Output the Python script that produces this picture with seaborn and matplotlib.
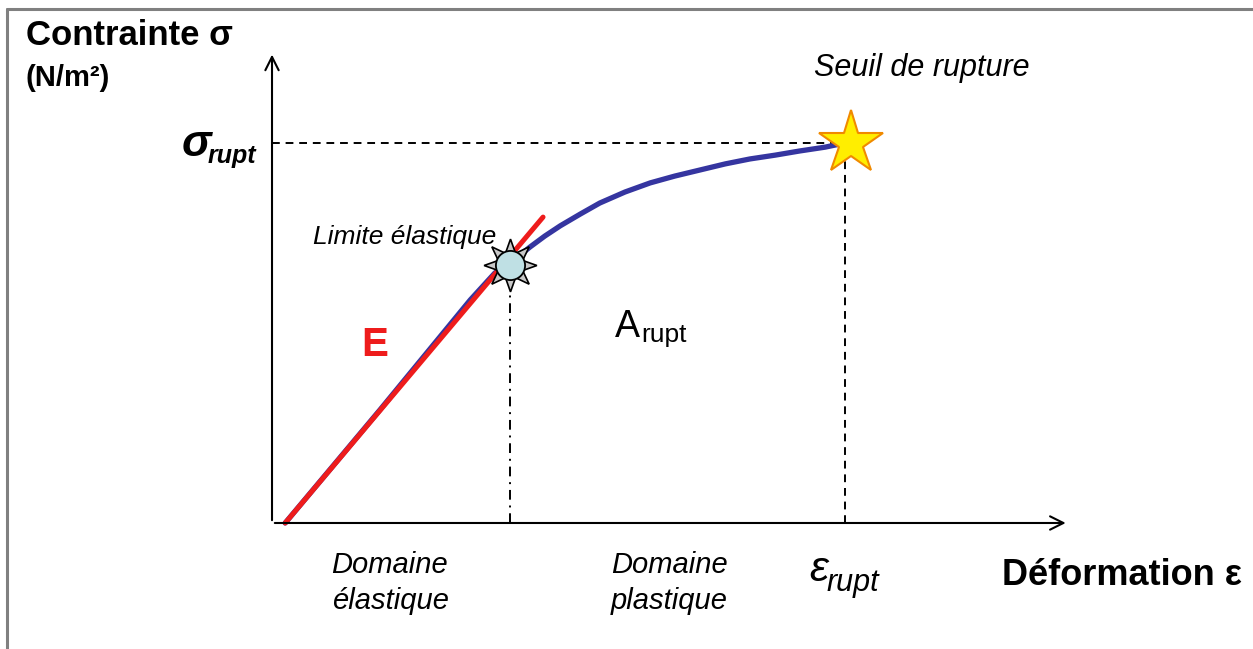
import matplotlib.pyplot as plt
import seaborn as sns
from matplotlib.lines import Line2D

# stress-strain curve (normalised: eps_rupt = 1, sigma_rupt = 1)
strain = [0.023, 0.188, 0.346, 0.389, 0.415, 0.433, 0.450, 0.476, 0.503, 0.538, 0.572,
          0.616, 0.660, 0.703, 0.747, 0.791, 0.834, 0.878, 0.921, 0.965, 1.0]
stress = [0.0, 0.297, 0.587, 0.658, 0.687, 0.705, 0.726, 0.755, 0.782, 0.813, 0.842,
          0.871, 0.895, 0.913, 0.929, 0.945, 0.958, 0.968, 0.979, 0.989, 1.0]

# elastic slope E
e_strain = [0.023, 0.473]
e_stress = [0.0, 0.805]

yield_pt = (0.415, 0.679)
rupt_pt = (1.0, 1.0)

sns.set_theme(style="white")
plt.rcParams['font.family'] = ['Liberation Sans', 'DejaVu Sans']
plt.rcParams['text.color'] = 'black'

fig = plt.figure(figsize=(12.53, 6.49), dpi=100)
ax = fig.add_axes([0, 0, 1, 1])
ax.set_xlim(-0.4747, 1.712)
ax.set_ylim(-0.3316, 1.3763)
ax.axis('off')

# border (top and left only)
fig.add_artist(Line2D([0.0056, 0.0056], [0, 0.9869], transform=fig.transFigure, color='#808080', lw=2.2))
fig.add_artist(Line2D([0.0056, 1], [0.9869, 0.9869], transform=fig.transFigure, color='#808080', lw=2.2))

# axes arrows
ax.annotate('', xy=(1.39, 0), xytext=(0, 0),
            arrowprops=dict(arrowstyle='->', color='black', lw=1.5, mutation_scale=24))
ax.annotate('', xy=(0, 1.24), xytext=(0, 0),
            arrowprops=dict(arrowstyle='->', color='black', lw=1.5, mutation_scale=24))

# guide lines
ax.plot([0, rupt_pt[0]], [rupt_pt[1], rupt_pt[1]], ls=(0, (4, 3)), color='black', lw=1.4)
ax.plot([rupt_pt[0], rupt_pt[0]], [0, rupt_pt[1]], ls=(0, (4, 3)), color='black', lw=1.4)
ax.plot([yield_pt[0], yield_pt[0]], [0, yield_pt[1] - 0.05], ls=(0, (5, 3, 1, 3)), color='black', lw=1.4)

# curves
sns.lineplot(x=strain, y=stress, ax=ax, color='#3535a0', lw=3.8, sort=False)
sns.lineplot(x=e_strain, y=e_stress, ax=ax, color='#ee1c1c', lw=3.6, sort=False)

# markers
ax.plot(*yield_pt, marker=(8, 1, 0), ms=38, mfc='#c8c8c8', mec='black', mew=1.2, zorder=5)
ax.plot(*yield_pt, marker='o', ms=21, mfc='#bfe0e4', mec='black', mew=1.3, zorder=6)
ax.plot(rupt_pt[0] + 0.01, rupt_pt[1], marker='*', ms=48, mfc='#ffee00', mec='#f08a00', mew=1.5, zorder=5)

# labels
ax.text(-0.430, 1.282, 'Contrainte σ', fontsize=25, fontweight='bold', va='center', ha='left')
ax.text(-0.430, 1.172, '(N/m²)', fontsize=21, fontweight='bold', va='center', ha='left')
ax.text(-0.158, 0.995, 'σ', fontsize=32, fontweight='bold', fontstyle='italic', va='center', ha='left')
ax.text(-0.112, 0.965, 'rupt', fontsize=18, fontweight='bold', fontstyle='italic', va='center', ha='left')
ax.text(1.134, 1.197, 'Seuil de rupture', fontsize=22, fontstyle='italic', ha='center', va='center')
ax.text(0.232, 0.753, 'Limite élastique', fontsize=19, fontstyle='italic', ha='center', va='center')
ax.text(0.18, 0.468, 'E', fontsize=29, fontweight='bold', color='#ee1c1c', ha='center', va='center')
ax.text(0.621, 0.516, 'A', fontsize=27, ha='center', va='center')
ax.text(0.644, 0.495, 'rupt', fontsize=19, ha='left', va='center')
ax.text(0.206, -0.158, 'Domaine\nélastique', fontsize=21, fontstyle='italic', ha='center', va='center',
        linespacing=1.35, multialignment='left')
ax.text(0.694, -0.158, 'Domaine\nplastique', fontsize=21, fontstyle='italic', ha='center', va='center',
        linespacing=1.35, multialignment='left')
ax.text(0.971, -0.124, 'ε', fontsize=31, fontstyle='italic', ha='right', va='center')
ax.text(0.967, -0.157, 'rupt', fontsize=22, fontstyle='italic', ha='left', va='center')
ax.text(1.693, -0.137, 'Déformation ε', fontsize=26, fontweight='bold', ha='right', va='center')

fig.savefig('out.png', dpi=100, facecolor='white')
